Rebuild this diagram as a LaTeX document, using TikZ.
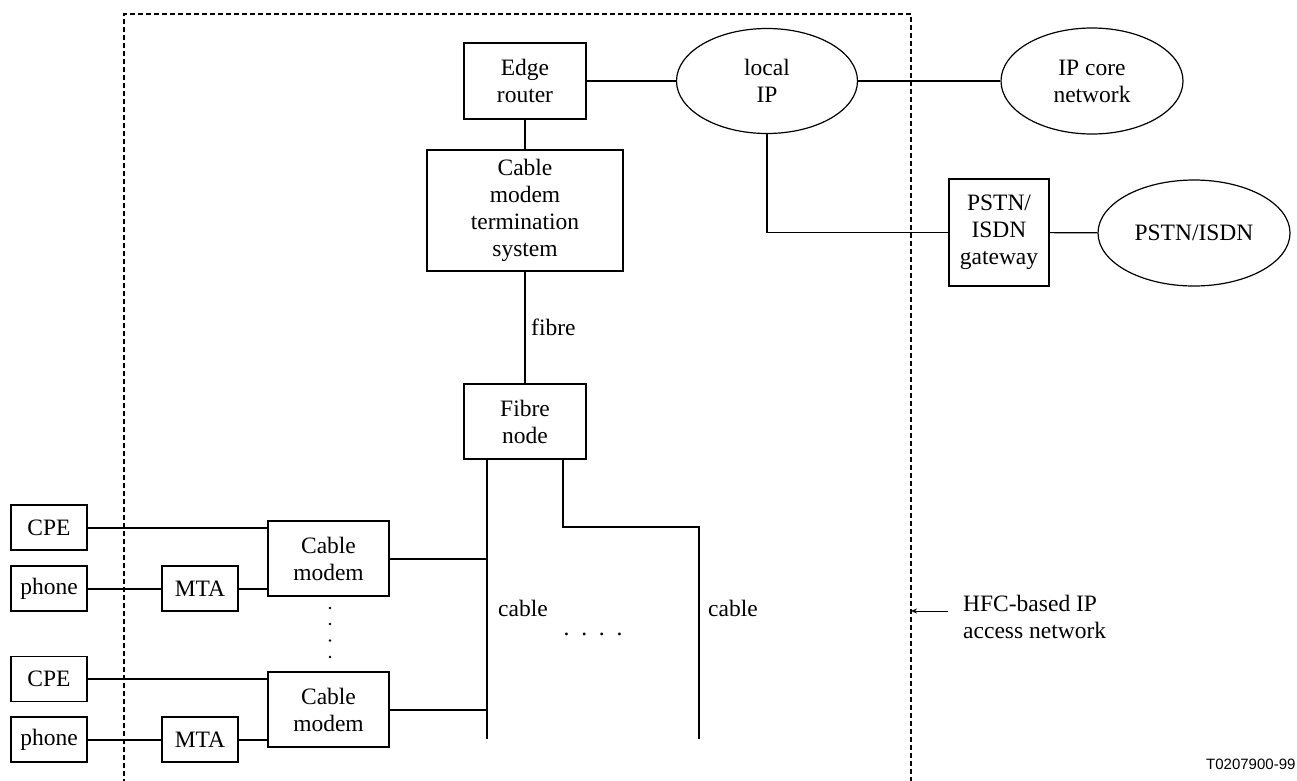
\documentclass[tikz,border=0pt]{standalone}
\usepackage{fontspec}
\setmainfont{Liberation Serif}
\newfontfamily\labelsans{Liberation Sans}
\usetikzlibrary{shapes.geometric,arrows.meta}
\begin{document}
\begin{tikzpicture}[x=1pt,y=-1pt,
  every node/.style={font=\fontsize{23.5}{27}\selectfont, inner sep=0pt},
  box/.style={draw, line width=1.2pt, rectangle, align=center},
  cloud/.style={draw, line width=1.2pt, ellipse, align=center, minimum width=181pt, minimum height=105pt},
  link/.style={line width=1.2pt},
  heavy/.style={line width=2pt},
  frame/.style={line width=2pt, dash pattern=on 5pt off 3pt},
  dotmark/.style={inner sep=0pt, font=\fontsize{23.5}{27}\selectfont},
  vdot/.style={circle, fill=black, inner sep=0pt, minimum size=2.8pt}
]
\useasboundingbox (0,0) rectangle (1297,780);
\draw[frame] (124,800) -- (124,14) -- (911,14) -- (911,800);

% top
\node[box, minimum width=122pt, minimum height=76pt] (er) at (525,81) {Edge\\router};
\node[cloud] (lip) at (767,81) {local\\IP};
\node[cloud, minimum width=182pt, minimum height=106pt] (core) at (1092,81) {IP core\\network};
\node[box, minimum width=196pt, minimum height=121pt] (cmts) at (525,210.5) {Cable\\modem\\termination\\system};
\node[box, minimum width=100pt, minimum height=107pt] (gw) at (999,232.5) {PSTN/\\ISDN\\gateway};
\node[cloud, minimum width=192pt, minimum height=106pt] (pstn) at (1194,233) {PSTN/ISDN};
\node[box, minimum width=122pt, minimum height=75pt] (fn) at (525,421.5) {Fibre\\node};

\draw[link] (er) -- (lip);
\draw[link] (lip) -- (core);
\draw[link] (er) -- (cmts);
\draw[link] (lip.south) -- (lip.south |- gw.west) -- (gw.west);
\draw[link] (gw) -- (pstn);
\draw[link] (cmts) -- (fn);
\node[anchor=west] (fibrelbl) at (531,327) {fibre};

% buses
\coordinate (busA) at (487,739);
\coordinate (busBtop) at (563,459);
\coordinate (busBcorner) at (563,527);
\coordinate (busB) at (699,739);
\draw[heavy] (busA |- fn.south) -- (busA);
\draw[link] (busBtop) -- (busBcorner) -- (busBcorner -| busB) -- (busB);
\node[anchor=west] (cableA) at (498,608) {cable};
\node[anchor=west] (cableB) at (708,608) {cable};
\node[dotmark] (hdots) at (593,634) {.\,\,\,.\,\,\,.\,\,\,.};

% left side
\node[box, minimum width=76pt, minimum height=45pt] (cpe1) at (49,527.5) {CPE};
\node[box, minimum width=76pt, minimum height=45pt] (ph1) at (49,588.5) {phone};
\node[box, minimum width=76pt, minimum height=45pt] (mta1) at (200,588.5) {MTA};
\node[box, minimum width=121pt, minimum height=75pt] (cm1) at (328.5,558.5) {Cable\\modem};
\node[box, minimum width=76pt, minimum height=45pt] (cpe2) at (49,679) {CPE};
\node[box, minimum width=76pt, minimum height=45pt] (ph2) at (49,739.5) {phone};
\node[box, minimum width=76pt, minimum height=45pt] (mta2) at (200,739.5) {MTA};
\node[box, minimum width=121pt, minimum height=75pt] (cm2) at (328.5,709.5) {Cable\\modem};

\draw[heavy] (cpe1.east) -- (cpe1.east -| cm1.west);
\draw[heavy] (ph1) -- (mta1);
\draw[heavy] (mta1) -- (cm1.west |- mta1);
\draw[heavy] (cm1) -- (cm1 -| busA);
\draw[heavy] (cpe2.east) -- (cpe2.east -| cm2.west);
\draw[heavy] (ph2) -- (mta2);
\draw[heavy] (mta2) -- (cm2.west |- mta2);
\draw[heavy] (cm2) -- (cm2 -| busA);
\node[vdot] (vd1) at (330,608) {};
\node[vdot] (vd2) at (330,624) {};
\node[vdot] (vd3) at (330,640.5) {};
\node[vdot] (vd4) at (330,657) {};

% annotation
\node[anchor=west, align=left] (hfc) at (963,617) {HFC-based IP\\access network};
\coordinate (arrtail) at (948,611);
\coordinate (arrhead) at (911,611);
\draw[line width=1pt, -{Stealth[length=6pt,width=5pt]}] (arrtail) -- (arrhead);

\node[anchor=west, font=\labelsans\fontsize{15}{18}\selectfont] (fig) at (1206,764) {T0207900-99};
\end{tikzpicture}
\end{document}
